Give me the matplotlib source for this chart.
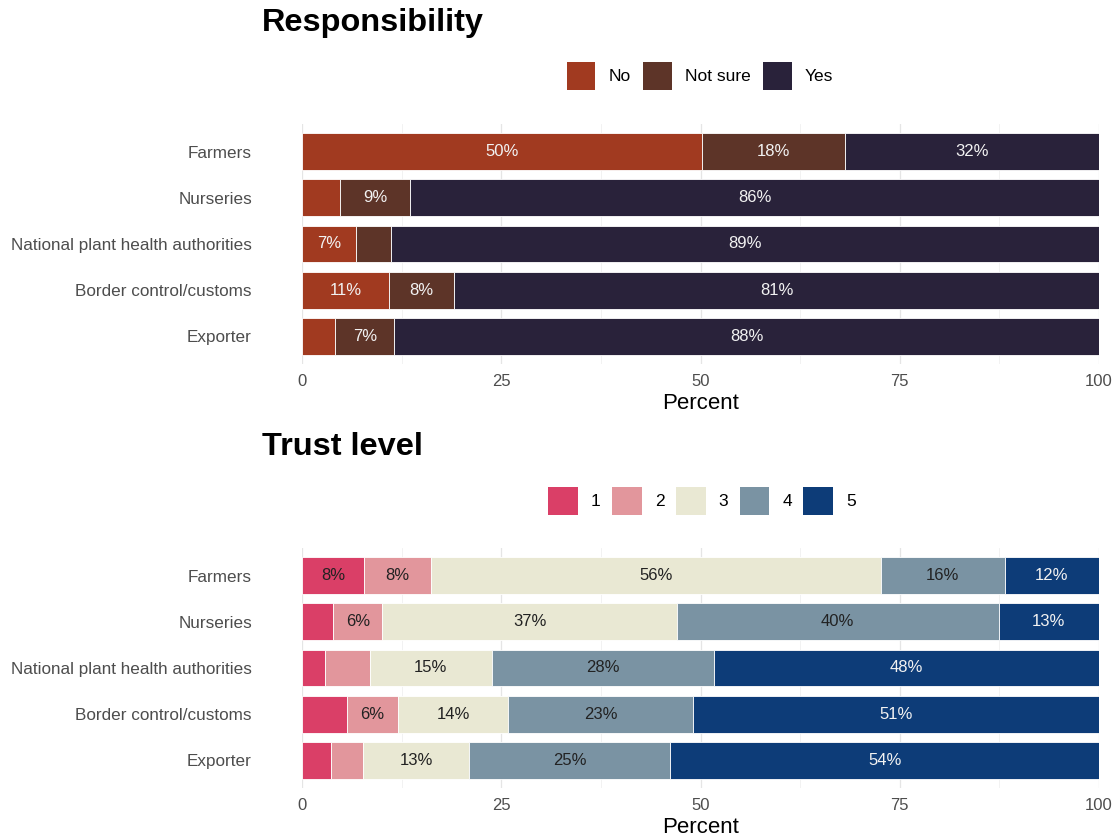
import matplotlib
matplotlib.use("Agg")
import matplotlib.pyplot as plt
from matplotlib.patches import Patch
import numpy as np

plt.rcParams['font.family'] = ['Liberation Sans', 'DejaVu Sans']

actors = ['Farmers', 'Nurseries', 'National plant health authorities',
          'Border control/customs', 'Exporter']

# Responsibility (percent)
resp_levels = ['No', 'Not sure', 'Yes']
resp_no = [50.2, 4.8, 6.8, 10.9, 4.2]
resp_notsure = [17.9, 8.8, 4.4, 8.2, 7.4]
resp_yes = [31.9, 86.4, 88.8, 80.9, 88.4]
resp_colors = ['#A13A20', '#5D3428', '#29223A']
resp_text = ['#F2F2F2', '#F2F2F2', '#F2F2F2']

# Trust level (percent)
trust_levels = ['1', '2', '3', '4', '5']
trust_1 = [7.8, 3.9, 2.9, 5.6, 3.6]
trust_2 = [8.4, 6.2, 5.6, 6.4, 4.0]
trust_3 = [56.4, 36.9, 15.3, 13.9, 13.4]
trust_4 = [15.6, 40.4, 27.9, 23.1, 25.2]
trust_5 = [11.8, 12.6, 48.3, 51.0, 53.8]
trust_colors = ['#DA3F67', '#E2969C', '#E9E8D3', '#7A93A3', '#0D3C78']
trust_text = ['#222222', '#222222', '#222222', '#222222', '#F2F2F2']


def stacked(ax, series, colors, text_colors):
    y = np.arange(len(actors))
    left = np.zeros(len(actors))
    for vals, col, tc in zip(series, colors, text_colors):
        vals = np.array(vals)
        ax.barh(y, vals, left=left, height=0.8, color=col,
                edgecolor='white', linewidth=0.6, zorder=3)
        for yi, l, v in zip(y, left, vals):
            if v >= 6:
                ax.text(l + v / 2, yi, f"{round(v)}%", ha='center', va='center',
                        color=tc, fontsize=12, zorder=4)
        left += vals
    ax.set_xlim(0, 100)
    ax.set_ylim(4.6, -0.6)
    ax.set_yticks(y)
    ax.set_yticklabels(actors, fontsize=12.3, color='#4D4D4D')
    ax.set_xticks([0, 25, 50, 75, 100])
    ax.set_xticklabels(['0', '25', '50', '75', '100'], fontsize=12, color='#4D4D4D')
    ax.set_xticks([12.5, 37.5, 62.5, 87.5], minor=True)
    ax.tick_params(length=0, which='both')
    ax.tick_params(axis='y', pad=36)
    ax.tick_params(axis='x', pad=7)
    ax.grid(True, which='major', color='#E5E5E5', linewidth=0.9, zorder=0)
    ax.grid(True, which='minor', axis='x', color='#F0F0F0', linewidth=0.6, zorder=0)
    for s in ax.spines.values():
        s.set_visible(False)
    ax.set_xlabel('Percent', fontsize=16, labelpad=3)


fig = plt.figure(figsize=(11.17, 8.36), dpi=100)
W, H = 1117, 836
ax1 = fig.add_axes([302 / W, 1 - 364 / H, 797 / W, 240 / H])
ax2 = fig.add_axes([302 / W, 1 - 788 / H, 797 / W, 240 / H])

stacked(ax1, [resp_no, resp_notsure, resp_yes], resp_colors, resp_text)
stacked(ax2, [trust_1, trust_2, trust_3, trust_4, trust_5], trust_colors, trust_text)

fig.text(262 / W, 1 - 23 / H, 'Responsibility', fontsize=23.4, fontweight='bold',
         ha='left', va='center')
fig.text(262 / W, 1 - 447 / H, 'Trust level', fontsize=23.4, fontweight='bold',
         ha='left', va='center')

h1 = [Patch(facecolor=c, label=l) for c, l in zip(resp_colors, resp_levels)]
fig.legend(handles=h1, loc='center', bbox_to_anchor=(700 / W, 1 - 76 / H), ncol=3,
           frameon=False, fontsize=12.5, handlelength=1.62, handleheight=2.1,
           columnspacing=0.75, handletextpad=0.75)
h2 = [Patch(facecolor=c, label=l) for c, l in zip(trust_colors, trust_levels)]
fig.legend(handles=h2, loc='center', bbox_to_anchor=(702 / W, 1 - 501 / H), ncol=5,
           frameon=False, fontsize=12.5, handlelength=1.72, handleheight=2.1,
           columnspacing=0.65, handletextpad=0.75)

fig.savefig('out.png', dpi=100)
